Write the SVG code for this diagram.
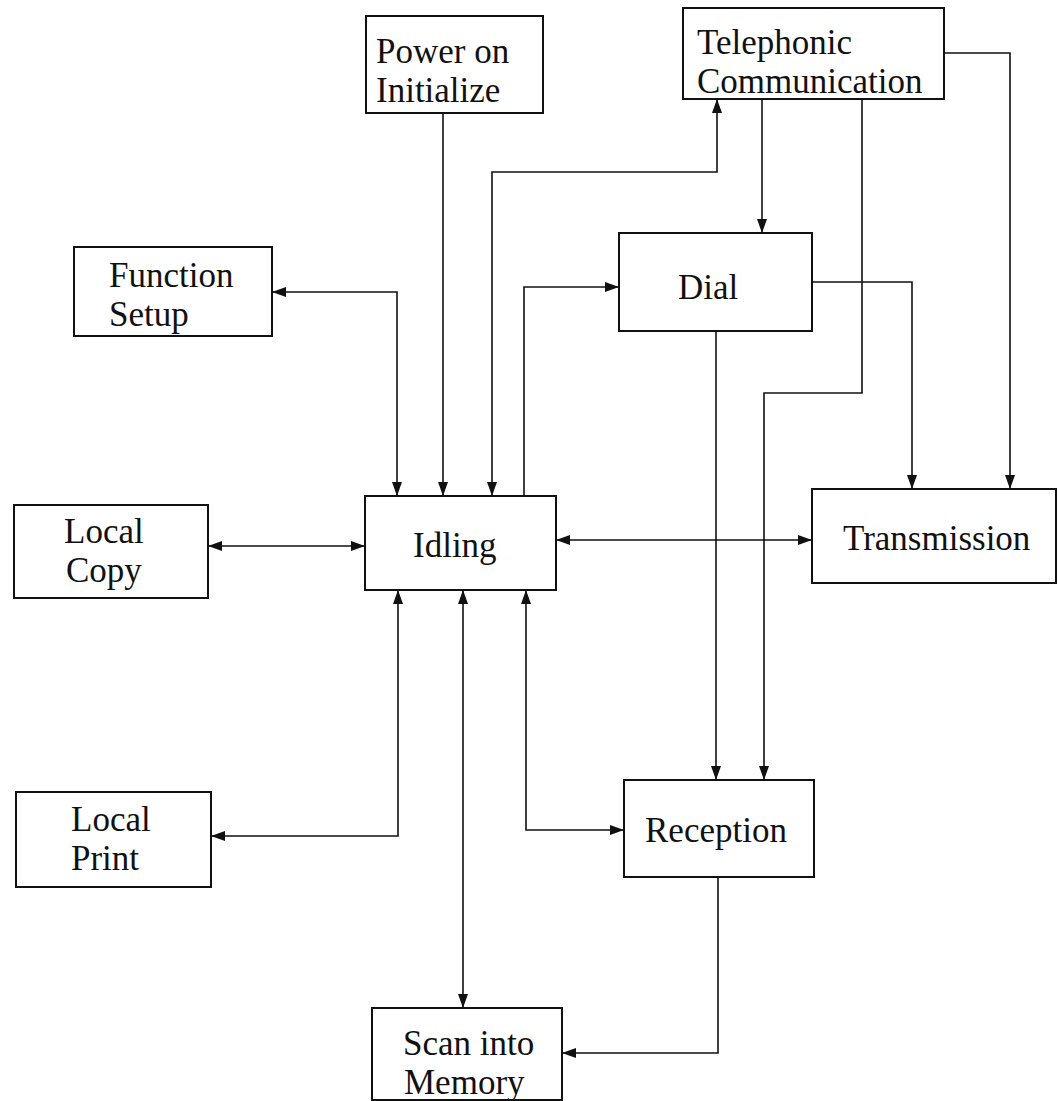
<svg xmlns="http://www.w3.org/2000/svg" width="1059" height="1101" viewBox="0 0 1059 1101">
<style>
.box{fill:#fff;stroke:#111;stroke-width:2}
.t{font-family:"Liberation Serif","Times New Roman",serif;font-size:35px;fill:#111}
.c{fill:none;stroke:#111;stroke-width:1.6}
.e{marker-end:url(#ah)}
.b{marker-start:url(#ah);marker-end:url(#ah)}
</style>
<defs>
<marker id="ah" viewBox="0 0 14 10" refX="14" refY="5" markerWidth="14" markerHeight="10" markerUnits="userSpaceOnUse" orient="auto-start-reverse">
<path d="M0,0 L14,5 L0,10 z" fill="#111"/>
</marker>
</defs>
<rect width="1059" height="1101" fill="#fff"/>
<g id="connectors">
<path class="c e" d="M443,113 L443,496"/>
<path class="c b" d="M272,292 H397 V496"/>
<path class="c b" d="M492,496 V172 H717 V99"/>
<path class="c e" d="M524,496 V287 H619"/>
<path class="c e" d="M762,99 V233"/>
<path class="c e" d="M862,99 V393 H764 V780"/>
<path class="c e" d="M944,53 H1010 V489"/>
<path class="c e" d="M812,282 H912 V489"/>
<path class="c e" d="M716,331 V780"/>
<path class="c b" d="M208,546 H365"/>
<path class="c b" d="M556,540 H812"/>
<path class="c b" d="M398,590 V836 H211"/>
<path class="c b" d="M463,590 V1008"/>
<path class="c b" d="M526,590 V830 H624"/>
<path class="c e" d="M718,877 V1053 H562"/>
</g>
<g id="power"><rect class="box" x="366" y="16" width="177" height="97"/><text class="t" x="376" y="63">Power on</text><text class="t" x="376" y="102">Initialize</text></g>
<g id="telephonic"><rect class="box" x="683" y="8" width="261" height="91"/><text class="t" x="697" y="54">Telephonic</text><text class="t" x="697" y="93">Communication</text></g>
<g id="function"><rect class="box" x="74" y="247" width="198" height="89"/><text class="t" x="109" y="287">Function</text><text class="t" x="109" y="326">Setup</text></g>
<g id="dial"><rect class="box" x="619" y="233" width="193" height="98"/><text class="t" x="678" y="299">Dial</text></g>
<g id="localcopy"><rect class="box" x="14" y="505" width="194" height="93"/><text class="t" x="64" y="543">Local</text><text class="t" x="66" y="582">Copy</text></g>
<g id="idling"><rect class="box" x="365" y="496" width="191" height="94"/><text class="t" x="413" y="557">Idling</text></g>
<g id="transmission"><rect class="box" x="812" y="489" width="244" height="94"/><text class="t" x="843" y="550">Transmission</text></g>
<g id="localprint"><rect class="box" x="16" y="792" width="195" height="95"/><text class="t" x="71" y="831">Local</text><text class="t" x="71" y="870">Print</text></g>
<g id="reception"><rect class="box" x="624" y="780" width="190" height="97"/><text class="t" x="645" y="842">Reception</text></g>
<g id="scan"><rect class="box" x="372" y="1008" width="190" height="92"/><text class="t" x="403" y="1055">Scan into</text><text class="t" x="404" y="1094">Memory</text></g>
</svg>
